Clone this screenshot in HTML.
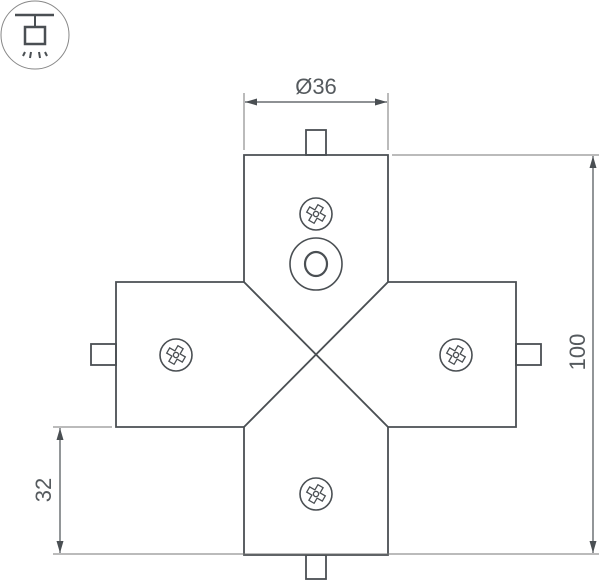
<!DOCTYPE html>
<html><head><meta charset="utf-8"><style>
html,body{margin:0;padding:0;background:#fff;}
svg{display:block;}
text{font-family:"Liberation Sans",sans-serif;fill:#555a5e;}
</style></head><body>
<svg width="600" height="581" viewBox="0 0 600 581" xmlns="http://www.w3.org/2000/svg">
<defs>
<marker id="a" viewBox="0 0 10 10" refX="10" refY="5" markerWidth="12" markerHeight="7" markerUnits="userSpaceOnUse" orient="auto-start-reverse" preserveAspectRatio="none"><path d="M0,0 L10,5 L0,10 z" fill="#4a4f53"/></marker>
<g id="s">
<circle r="16" fill="none" stroke="#4a4f53" stroke-width="1.6"/>
<g transform="rotate(30)" fill="none" stroke="#4a4f53" stroke-width="1.3">
<path d="M-3,-9 H3 V-3 H9 V3 H3 V9 H-3 V3 H-9 V-3 H-3 Z"/>
<circle r="2.6"/>
</g>
</g>
</defs>
<!-- icon -->
<g stroke="#4a4f53" fill="none">
<circle cx="35" cy="35" r="34" stroke="#888" stroke-width="1"/>
<line x1="15" y1="15" x2="54" y2="15" stroke-width="2.5"/>
<line x1="35" y1="15" x2="35" y2="27" stroke-width="2"/>
<rect x="25" y="27" width="20" height="17" stroke-width="2.5"/>
<g stroke-width="2"><line x1="25" y1="52" x2="23" y2="56"/><line x1="31" y1="52" x2="30" y2="58"/><line x1="39" y1="52" x2="40" y2="58"/><line x1="45" y1="52" x2="47" y2="56"/></g>
</g>
<g fill="none" stroke="#4a4f53" stroke-width="1.8">
<path d="M244,155 H388 V282 H516 V427 H388 V555 H244 V427 H116 V282 H244 Z"/>
<line x1="244" y1="282" x2="388" y2="427"/>
<line x1="388" y1="282" x2="244" y2="427"/>
<rect x="306" y="130" width="20" height="25"/>
<rect x="306" y="555" width="20" height="24"/>
<rect x="91" y="344" width="25" height="21"/>
<rect x="516" y="344" width="25" height="21"/>
<circle cx="316" cy="264" r="26" stroke-width="1.6"/>
<ellipse cx="316" cy="264" rx="11" ry="12" stroke-width="2.2"/>
</g>
<use href="#s" x="316" y="214"/>
<use href="#s" x="176" y="355"/>
<use href="#s" x="456" y="355"/>
<use href="#s" x="316" y="494"/>
<!-- dims -->
<g stroke="#777" stroke-width="1">
<line x1="244" y1="93" x2="244" y2="150"/>
<line x1="388" y1="93" x2="388" y2="150"/>
<line x1="392" y1="155" x2="599" y2="155"/>
<line x1="240" y1="554" x2="599" y2="554"/>
<line x1="53" y1="427" x2="112" y2="427"/>
<line x1="53" y1="554" x2="240" y2="554"/>
</g>
<g stroke="#4a4f53" stroke-width="1.2">
<line x1="245" y1="102" x2="387" y2="102" marker-start="url(#a)" marker-end="url(#a)"/>
<line x1="593" y1="156" x2="593" y2="553" marker-start="url(#a)" marker-end="url(#a)"/>
<line x1="60" y1="428" x2="60" y2="553" marker-start="url(#a)" marker-end="url(#a)"/>
</g>
<text x="316" y="94" font-size="22" text-anchor="middle">Ø36</text>
<text transform="translate(585,352) rotate(-90)" font-size="22" text-anchor="middle">100</text>
<text transform="translate(51,490) rotate(-90)" font-size="22" text-anchor="middle">32</text>
</svg>
</body></html>
